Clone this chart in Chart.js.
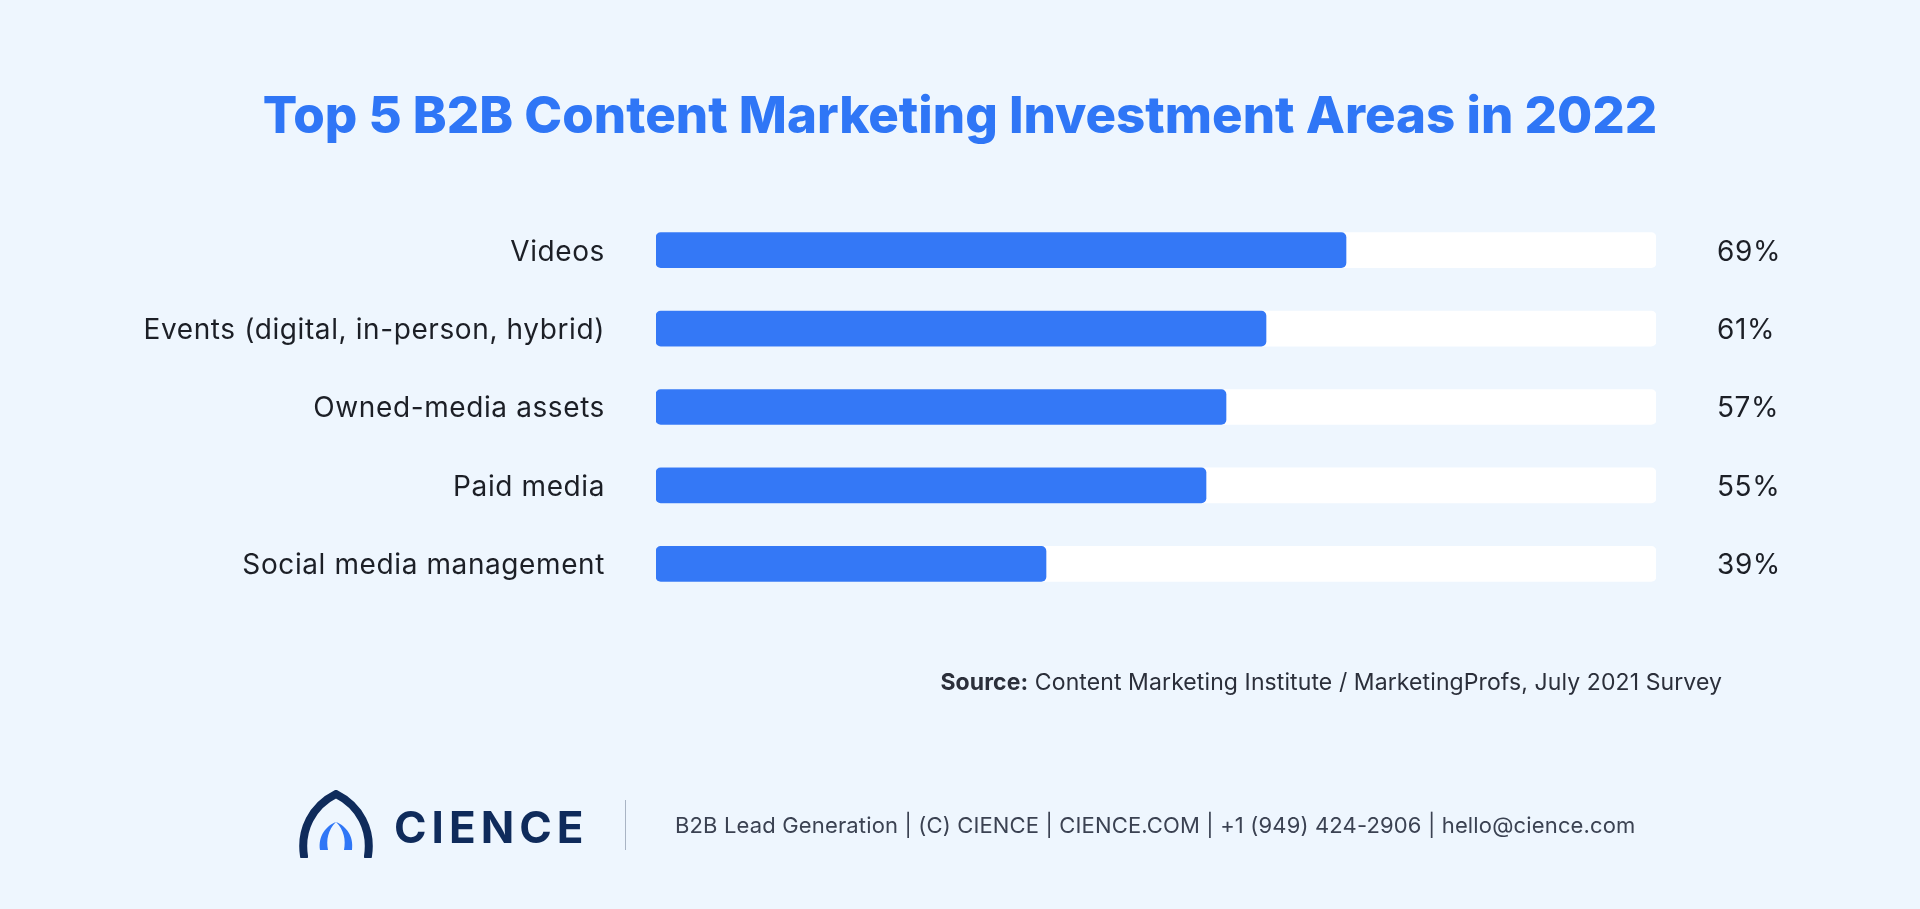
<!DOCTYPE html>
<html>
<head>
<meta charset="utf-8">
<script src="https://cdn.jsdelivr.net/npm/chart.js@4/dist/chart.umd.min.js"></script>
<style>
  body { margin: 0; background: #eef6fe; font-family: Inter, "Noto Sans", sans-serif; }
  #wrap { position: relative; width: 1920px; height: 909px; overflow: hidden; }
  canvas { position: absolute; left: 0; top: 0; }
  .title { position: absolute; top: 84px; width: 100%; text-align: center; font-size: 51px; font-weight: 800; color: #2f76f6; }
  .source { position: absolute; right: 198px; top: 668px; font-size: 23px; letter-spacing: 0.1px; color: #2b2f3a; }
  .footer { position: absolute; left: 675px; top: 812px; font-size: 22px; letter-spacing: 0.15px; color: #3b4252; }
  .divider { position: absolute; left: 625px; top: 800px; width: 1px; height: 50px; background: #a9b4c4; }
  .logo { position: absolute; left: 298px; top: 790px; }
  .brand { position: absolute; left: 394px; top: 800px; font-size: 44px; font-weight: 700; letter-spacing: 5px; color: #0f2b5b; }
</style>
</head>
<body>
<div id="wrap">
  <canvas id="barChart" width="1920" height="909"></canvas>
  <div class="title">Top 5 B2B Content Marketing Investment Areas in 2022</div>
  <div class="source"><b>Source:</b> Content Marketing Institute / MarketingProfs, July 2021 Survey</div>
  <svg class="logo" width="76" height="68" viewBox="0 0 76 68">
    <path d="M6 66 C2 40 14 16 38 4 C62 16 74 40 70 66" fill="none" stroke="#0f2b5b" stroke-width="8" stroke-linecap="round"/>
    <path d="M22 60 C20 46 28 36 38 32 C30 40 28 50 30 60" fill="#2f76f6"/>
    <path d="M54 60 C56 46 48 36 38 32 C46 40 48 50 46 60" fill="#2f76f6"/>
  </svg>
  <div class="brand">CIENCE</div>
  <div class="divider"></div>
  <div class="footer">B2B Lead Generation | (C) CIENCE | CIENCE.COM | +1 (949) 424-2906 | hello@cience.com</div>
</div>
<script>
const categories = ["Videos", "Events (digital, in-person, hybrid)", "Owned-media assets", "Paid media", "Social media management"];
const shares = [69, 61, 57, 55, 39];
const track = [100, 100, 100, 100, 100];

// Labels left of bars and percentages right of the track
const sideLabels = {
  id: "sideLabels",
  afterDraw(chart) {
    const ctx = chart.ctx;
    const y = chart.scales.y;
    const area = chart.chartArea;
    ctx.save();
    ctx.font = "28px Inter, sans-serif";
    ctx.letterSpacing = "0.6px";
    ctx.fillStyle = "#1c1f26";
    ctx.textBaseline = "middle";
    categories.forEach((c, i) => {
      const py = y.getPixelForValue(i) + 2;
      ctx.textAlign = "right";
      ctx.fillText(c, area.left - 51, py);
      ctx.textAlign = "left";
      ctx.fillText(shares[i] + "%", area.right + 61, py);
    });
    ctx.restore();
  }
};

new Chart(document.getElementById("barChart").getContext("2d"), {
  type: "bar",
  data: {
    labels: categories,
    datasets: [
      { data: shares, backgroundColor: "#3478f6", barThickness: 35, borderRadius: 5, borderSkipped: false, grouped: false, order: 0 },
      { data: track, backgroundColor: "#ffffff", barThickness: 35, borderRadius: 5, borderSkipped: false, grouped: false, order: 1 },
    ],
  },
  options: {
    responsive: false,
    animation: false,
    indexAxis: "y",
    layout: { padding: { left: 656, right: 264, top: 211, bottom: 306 } },
    plugins: { legend: { display: false }, tooltip: { enabled: false } },
    scales: {
      x: { min: 0, max: 100, display: false },
      y: { display: false },
    },
  },
  plugins: [sideLabels],
});
</script>
</body>
</html>
